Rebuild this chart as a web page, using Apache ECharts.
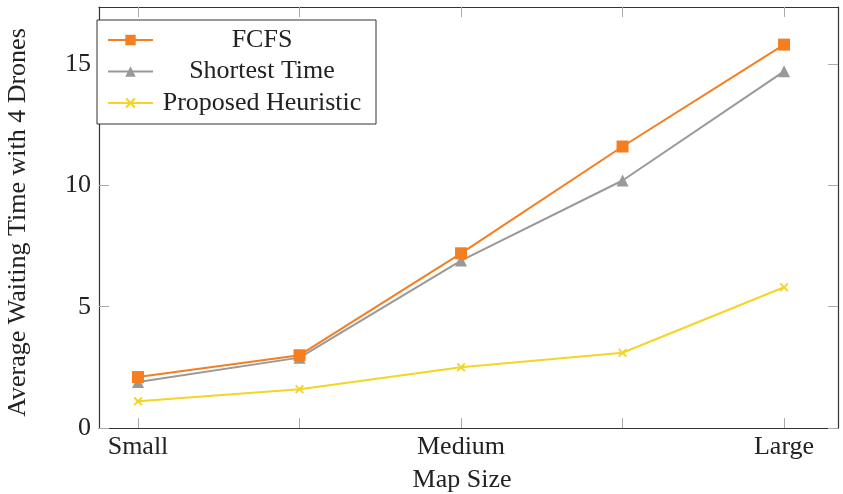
<!DOCTYPE html>
<html>
<head>
<meta charset="utf-8">
<script src="https://cdn.jsdelivr.net/npm/echarts@6/dist/echarts.min.js"></script>
<style>
html,body{margin:0;padding:0;background:#fff;}
#chart{width:843px;height:494px;}
</style>
</head>
<body>
<div id="chart"></div>
<script>
// ---- data ----
const categories = ['Small', '', 'Medium', '', 'Large'];
const fcfs = [2.1, 3.0, 7.2, 11.6, 15.8];
const shortestTime = [1.9, 2.9, 6.9, 10.2, 14.7];
const proposedHeuristic = [1.1, 1.6, 2.5, 3.1, 5.8];
const yTicks = [0, 5, 10, 15];
const seriesNames = ['FCFS', 'Shortest Time', 'Proposed Heuristic'];

const FONT = '"Liberation Serif", "DejaVu Serif", serif';
const FS = 26;
const TEXT = '#222';
const AXIS = '#333';
const TICK = '#aaa';
const crossPath = 'path://M1.5,0 L5,3.5 L8.5,0 L10,1.5 L6.5,5 L10,8.5 L8.5,10 L5,6.5 L1.5,10 L0,8.5 L3.5,5 L0,1.5 Z';

const idx = categories.map((c, i) => i);
const pairs = arr => arr.map((v, i) => [i, v]);

const chart = echarts.init(document.getElementById('chart'), null, {renderer: 'canvas'});

const xBase = {
  type: 'value',
  min: -0.2415,
  max: 4.334,
  splitLine: {show: false},
  axisLine: {show: true, onZero: false, lineStyle: {color: AXIS, width: 1.2}},
  axisTick: {show: true, inside: true, length: 10, customValues: idx, lineStyle: {color: TICK, width: 1}}
};
const yBase = {
  type: 'value',
  min: 0,
  max: 17.35,
  splitLine: {show: false},
  axisLine: {show: true, onZero: false, lineStyle: {color: AXIS, width: 1.2}},
  axisTick: {show: true, inside: true, length: 10, customValues: yTicks, lineStyle: {color: TICK, width: 1}}
};

chart.setOption({
  animation: false,
  backgroundColor: '#fff',
  textStyle: {fontFamily: FONT},
  grid: {left: 99, right: 5, top: 7, bottom: 66, containLabel: false, outerBoundsMode: 'none'},
  legend: {
    left: 97, top: 20,
    orient: 'vertical',
    data: seriesNames,
    backgroundColor: '#fff',
    borderColor: AXIS,
    borderWidth: 1,
    borderRadius: 0,
    padding: [7, 10, 8, 10],
    itemGap: 5.5,
    itemWidth: 45,
    itemHeight: 13,
    formatter: n => '{t|' + n + '}',
    textStyle: {
      fontFamily: FONT,
      rich: {t: {width: 208, align: 'center', fontSize: FS, lineHeight: 24, color: TEXT, fontFamily: FONT}}
    }
  },
  xAxis: [
    Object.assign({}, xBase, {
      position: 'bottom',
      name: 'Map Size',
      nameLocation: 'middle',
      nameGap: 39,
      nameTextStyle: {fontSize: FS, color: TEXT, fontFamily: FONT, padding: [0, 13, 0, 0]},
      axisLabel: {
        show: true, margin: 6, fontSize: FS, color: TEXT, fontFamily: FONT,
        customValues: idx,
        formatter: v => categories[Math.round(v)] || ''
      }
    }),
    Object.assign({}, xBase, {position: 'top', axisLabel: {show: false}})
  ],
  yAxis: [
    Object.assign({}, yBase, {
      position: 'left',
      name: 'Average Waiting Time with 4 Drones',
      nameLocation: 'middle',
      nameGap: 68,
      nameTextStyle: {fontSize: FS, color: TEXT, fontFamily: FONT, padding: [0, 10, 0, 0]},
      axisLabel: {show: true, margin: 8, fontSize: FS, color: TEXT, fontFamily: FONT, customValues: yTicks}
    }),
    Object.assign({}, yBase, {position: 'right', axisLabel: {show: false}})
  ],
  series: [
    {
      name: seriesNames[0], type: 'line', data: pairs(fcfs),
      symbol: 'rect', symbolSize: 12,
      lineStyle: {color: '#F47E20', width: 2},
      itemStyle: {color: '#F47E20'},
      z: 3
    },
    {
      name: seriesNames[1], type: 'line', data: pairs(shortestTime),
      symbol: 'triangle', symbolSize: 12,
      lineStyle: {color: '#999999', width: 2},
      itemStyle: {color: '#999999'},
      z: 2
    },
    {
      name: seriesNames[2], type: 'line', data: pairs(proposedHeuristic),
      symbol: crossPath, symbolSize: 9,
      lineStyle: {color: '#F4D424', width: 2},
      itemStyle: {color: '#F4D424'},
      z: 1
    }
  ]
});
</script>
</body>
</html>
